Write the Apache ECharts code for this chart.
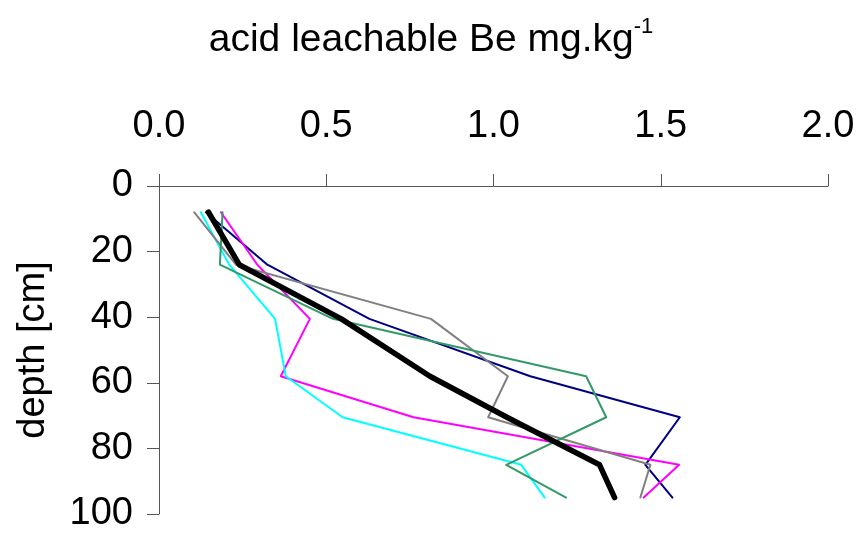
<!DOCTYPE html>
<html>
<head>
<meta charset="utf-8">
<title>acid leachable Be</title>
<script src="https://cdn.jsdelivr.net/npm/echarts/dist/echarts.min.js"></script>
<style>
  html, body { margin: 0; padding: 0; background: #fff; }
  #chart { width: 862px; height: 533px; }
</style>
</head>
<body>
<div id="chart"></div>
<script>
// sampling depths (cm), shared by all profiles
var depths = [8, 24, 40.5, 58, 70.5, 85, 95];

// acid leachable Be (mg/kg) per profile
var beNavy    = [0.14, 0.324, 0.629, 1.11, 1.557, 1.454, 1.535];
var beMagenta = [0.185, 0.294, 0.451, 0.364, 0.761, 1.555, 1.449];
var beCyan    = [0.125, 0.21, 0.347, 0.379, 0.549, 1.083, 1.153];
var beGray    = [0.105, 0.23, 0.813, 1.043, 0.984, 1.469, 1.439];
var beGreen   = [0.19, 0.182, 0.52, 1.277, 1.337, 1.038, 1.217];
var beMean    = [0.148, 0.24, 0.545, 0.81, 1.04, 1.317, 1.362];

var xTicks = [0, 0.5, 1.0, 1.5, 2.0];
var yTicks = [0, 20, 40, 60, 80, 100];

var FONT = 'Arial, "Liberation Sans", sans-serif';

function pairs (vals) {
  return vals.map(function (v, i) { return [v, depths[i]]; });
}

function profile (name, vals, color, width) {
  return {
    name: name,
    type: 'line',
    data: pairs(vals),
    symbol: 'none',
    silent: true,
    lineStyle: { color: color, width: width, cap: 'round', join: 'round' }
  };
}

var chart = echarts.init(document.getElementById('chart'));

var option = {
  animation: false,
  backgroundColor: '#fff',
  title: {
    left: 'center',
    top: 11,
    text: '{a|acid leachable Be mg.kg}{s|-1}',
    textStyle: {
      fontWeight: 'normal',
      rich: {
        a: { fontFamily: FONT, fontSize: 39, fontWeight: 'normal', color: '#000', lineHeight: 44, verticalAlign: 'bottom' },
        s: { fontFamily: FONT, fontSize: 22, fontWeight: 'normal', color: '#000', lineHeight: 22, verticalAlign: 'top' }
      }
    }
  },
  grid: { left: 159, right: 34, top: 186, bottom: 18 },
  xAxis: {
    type: 'value',
    position: 'top',
    min: xTicks[0],
    max: xTicks[xTicks.length - 1],
    interval: 0.5,
    axisLine: { show: true, lineStyle: { color: '#555', width: 1 } },
    axisTick: { show: true, inside: false, length: 12, lineStyle: { color: '#555' } },
    splitLine: { show: false },
    axisLabel: {
      margin: 40,
      fontFamily: FONT,
      fontSize: 38,
      color: '#000',
      formatter: function (v) { return v.toFixed(1); }
    }
  },
  yAxis: {
    type: 'value',
    inverse: true,
    min: yTicks[0],
    max: yTicks[yTicks.length - 1],
    interval: 20,
    name: 'depth [cm]',
    nameLocation: 'middle',
    nameRotate: 90,
    nameGap: 106,
    nameTextStyle: { fontFamily: FONT, fontSize: 38, color: '#000' },
    axisLine: { show: true, lineStyle: { color: '#555', width: 1 } },
    axisTick: { show: true, length: 12, lineStyle: { color: '#555' } },
    splitLine: { show: false },
    axisLabel: { margin: 26, fontFamily: FONT, fontSize: 38, color: '#000' }
  },
  series: [
    profile('navy', beNavy, '#000080', 2),
    profile('magenta', beMagenta, '#ff00ff', 2),
    profile('cyan', beCyan, '#00ffff', 2),
    profile('gray', beGray, '#808080', 2),
    profile('green', beGreen, '#339966', 2),
    profile('mean', beMean, '#000000', 5.5)   // average profile, drawn on top
  ]
};

chart.setOption(option);
</script>
</body>
</html>
